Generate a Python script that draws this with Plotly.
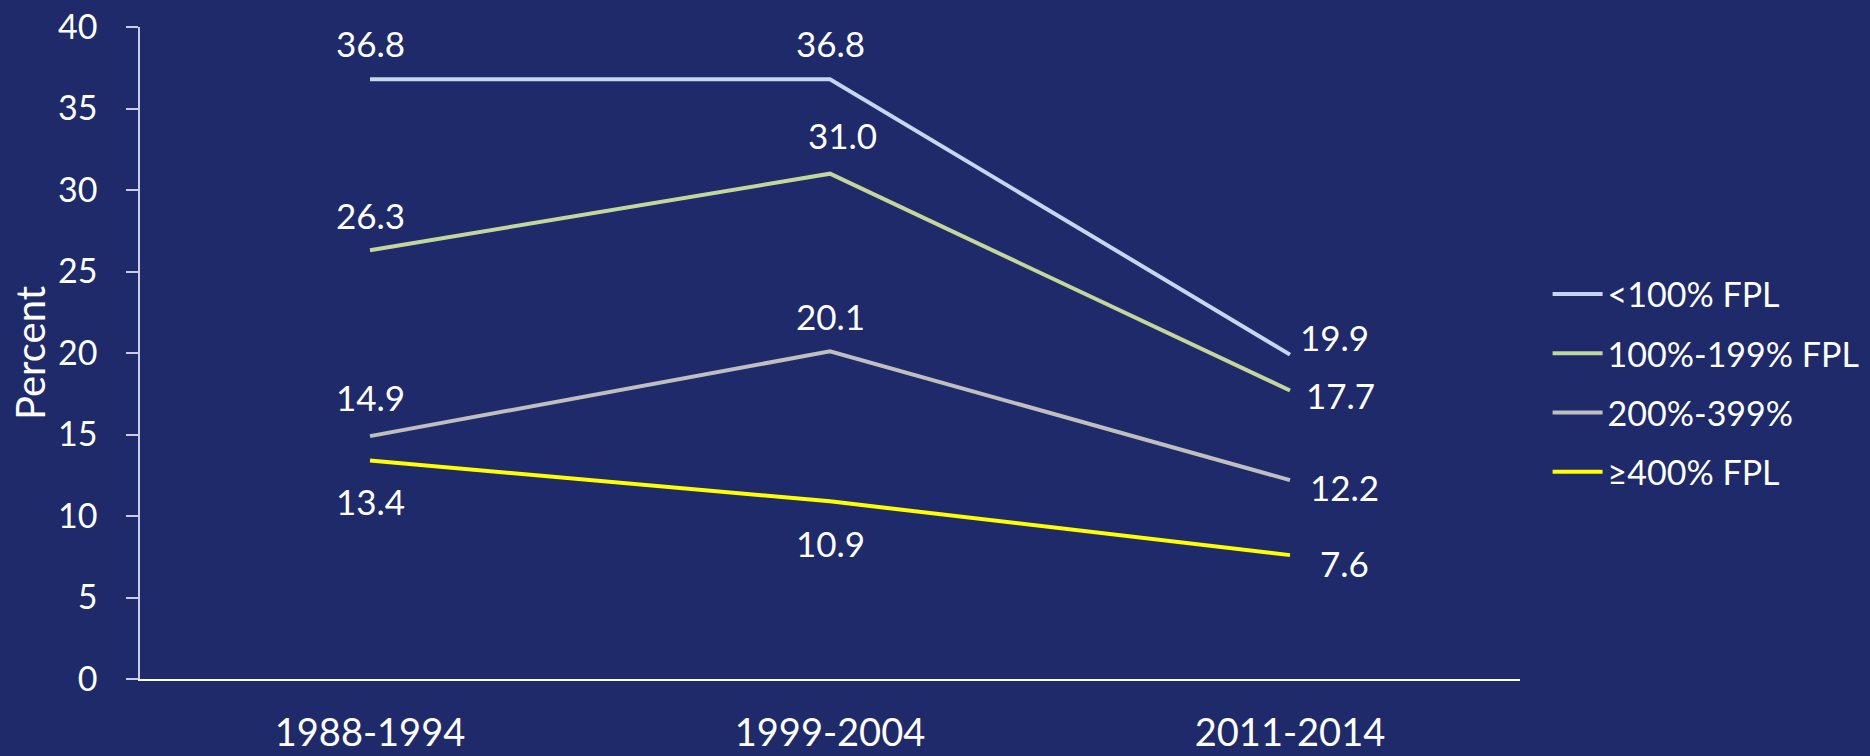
import plotly.graph_objects as go

# Survey periods on the x axis
periods = ["1988-1994", "1999-2004", "2011-2014"]

# Percent by family income relative to the federal poverty level (FPL)
below_100_fpl = [36.8, 36.8, 19.9]
fpl_100_199 = [26.3, 31.0, 17.7]
fpl_200_399 = [14.9, 20.1, 12.2]
fpl_400_plus = [13.4, 10.9, 7.6]

series_names = ["<100% FPL", "100%-199% FPL", "200%-399%", "≥400% FPL"]
y_tick_values = [0, 5, 10, 15, 20, 25, 30, 35, 40]

series_values = [below_100_fpl, fpl_100_199, fpl_200_399, fpl_400_plus]
series_colors = ["#c6d6f0", "#c3d69b", "#bfbfbf", "#ffff00"]

# Pixel offsets (dx, dy) of each value label from its point
label_offsets = [
    [(0, 36), (0, 36), (44, 18)],
    [(0, 35), (12, 39), (50, -5)],
    [(0, 39), (0, 35), (54, -7)],
    [(0, -40), (0, -42), (54, -8)],
]

FONT = "Lato, 'Open Sans', sans-serif"

fig = go.Figure()
for name, values, color in zip(series_names, series_values, series_colors):
    fig.add_trace(go.Scatter(
        x=periods, y=values, name=name, legendgroup=name,
        mode="lines",
        line=dict(color=color, width=4),
        hoverinfo="skip",
    ))

annotations = []
for values, offsets in zip(series_values, label_offsets):
    for period, value, (dx, dy) in zip(periods, values, offsets):
        annotations.append(dict(
            x=period, y=value, xref="x", yref="y",
            text=f"{value:.1f}", showarrow=False,
            xanchor="center", yanchor="middle",
            xshift=dx, yshift=dy,
            font=dict(family=FONT, size=35, color="white"),
        ))

# Rotated y-axis title placed left of the tick labels
annotations.append(dict(
    x=-0.0797, y=0.5, xref="paper", yref="paper",
    text="Percent", showarrow=False, textangle=-90,
    xanchor="center", yanchor="middle",
    font=dict(family=FONT, size=40, color="white"),
))

fig.update_layout(
    width=1870, height=756,
    margin=dict(l=140, r=350, t=27, b=77, autoexpand=False),
    paper_bgcolor="#1e2a6a",
    plot_bgcolor="rgba(0,0,0,0)",
    font=dict(family=FONT, color="white"),
    showlegend=True,
    legend=dict(
        x=1.02, y=0.454, xanchor="left", yanchor="middle",
        font=dict(family=FONT, size=34, color="white"),
        bgcolor="rgba(0,0,0,0)",
        traceorder="grouped",
        tracegroupgap=12,
        itemwidth=50,
    ),
    annotations=annotations,
    xaxis=dict(
        type="category",
        range=[-0.5, 2.5],
        automargin=False,
        showline=True, linecolor="white", linewidth=2,
        showgrid=False, zeroline=False,
        ticks="",
        tickfont=dict(family=FONT, size=38, color="white"),
        ticklabelstandoff=19,
    ),
    yaxis=dict(
        range=[0, 40],
        automargin=False,
        tickvals=y_tick_values,
        showline=True, linecolor="#c9cde6", linewidth=1.5,
        showgrid=False, zeroline=False,
        ticks="outside", ticklen=12, tickcolor="#c9cde6", tickwidth=1.5,
        tickfont=dict(family=FONT, size=34, color="white"),
        ticklabelstandoff=22,
    ),
)

fig.write_html("out.html")
